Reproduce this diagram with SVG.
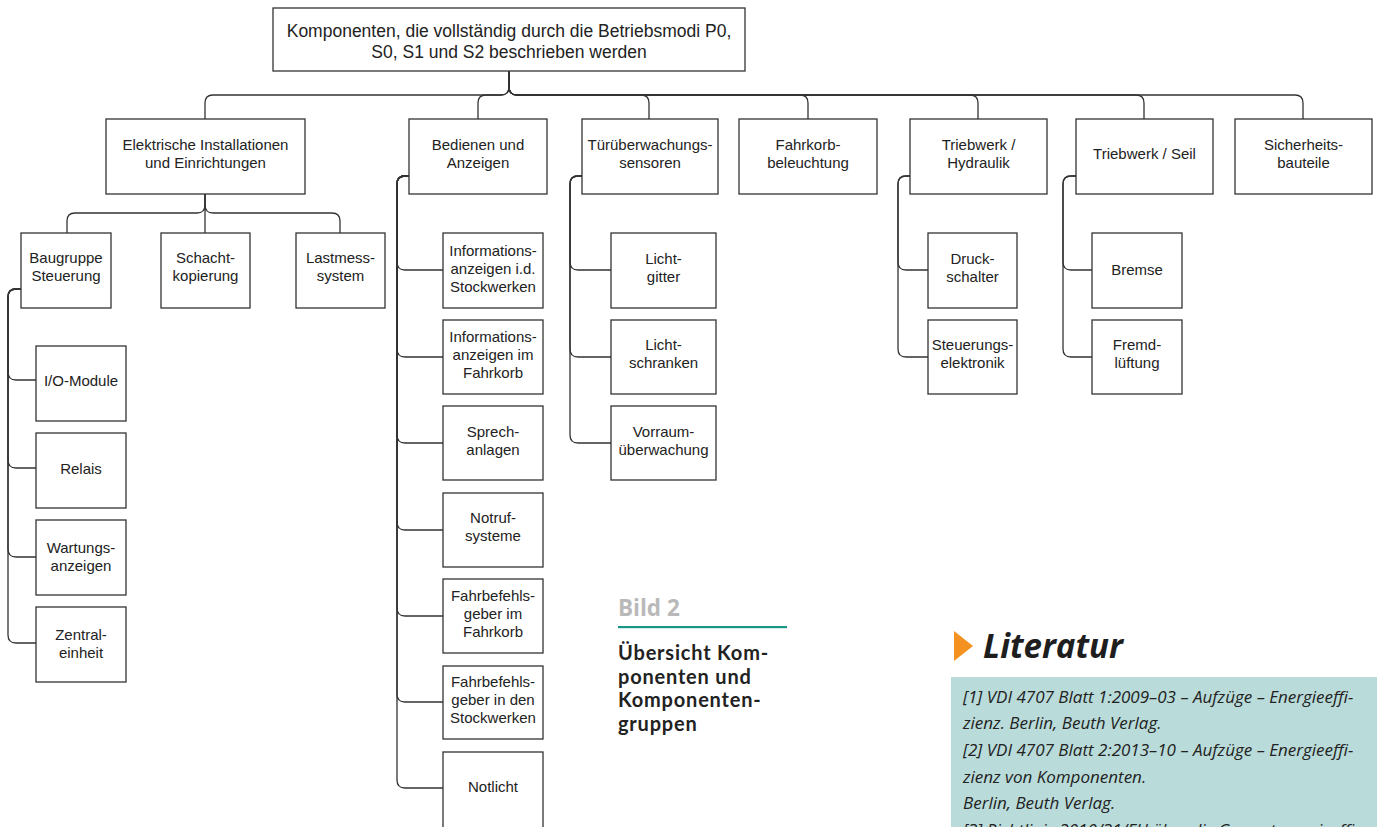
<svg xmlns="http://www.w3.org/2000/svg" width="1377" height="827" viewBox="0 0 1377 827">
<style>
.n rect{fill:#fff;stroke:#333;stroke-width:1.3}
.n text{font-family:"Liberation Sans",Arial,sans-serif;font-size:15px;fill:#222;text-anchor:middle}
.top text{font-size:17.5px}
#connectors path{fill:none;stroke:#333;stroke-width:1.3}
.cap{font-family:Lato,"Open Sans",sans-serif;font-weight:bold;fill:#222;font-size:20px;letter-spacing:0.8px}
.ref{font-family:"Open Sans","Noto Sans",sans-serif;font-style:italic;fill:#222;font-size:17px}
</style>
<rect width="1377" height="827" fill="#fff"/>
<g id="connectors">
<path d="M509,71 V87 Q509,95 501,95 H213 Q205,95 205,103 V119"/>
<path d="M509,71 V87 Q509,95 501,95 H486 Q478,95 478,103 V119"/>
<path d="M509,71 V87 Q509,95 517,95 H641 Q649,95 649,103 V119"/>
<path d="M509,71 V87 Q509,95 517,95 H800 Q808,95 808,103 V119"/>
<path d="M509,71 V87 Q509,95 517,95 H970 Q978,95 978,103 V119"/>
<path d="M509,71 V87 Q509,95 517,95 H1136 Q1144,95 1144,103 V119"/>
<path d="M509,71 V87 Q509,95 517,95 H1295 Q1303,95 1303,103 V119"/>
<path d="M205,194 V205 Q205,213 197,213 H75 Q67,213 67,221 V233"/>
<path d="M205,194 V233"/>
<path d="M205,194 V205 Q205,213 213,213 H332 Q340,213 340,221 V233"/>
<path d="M21,289 H16 Q8,289 8,297 V372 Q8,380 16,380 H36"/>
<path d="M21,289 H16 Q8,289 8,297 V460 Q8,468 16,468 H36"/>
<path d="M21,289 H16 Q8,289 8,297 V549 Q8,557 16,557 H36"/>
<path d="M21,289 H16 Q8,289 8,297 V635 Q8,643 16,643 H36"/>
<path d="M409,176 H405 Q397,176 397,184 V262 Q397,270 405,270 H443"/>
<path d="M409,176 H405 Q397,176 397,184 V349 Q397,357 405,357 H443"/>
<path d="M409,176 H405 Q397,176 397,184 V435 Q397,443 405,443 H443"/>
<path d="M409,176 H405 Q397,176 397,184 V522 Q397,530 405,530 H443"/>
<path d="M409,176 H405 Q397,176 397,184 V608 Q397,616 405,616 H443"/>
<path d="M409,176 H405 Q397,176 397,184 V694 Q397,702 405,702 H443"/>
<path d="M409,176 H405 Q397,176 397,184 V780 Q397,788 405,788 H443"/>
<path d="M582,176 H578 Q570,176 570,184 V262 Q570,270 578,270 H611"/>
<path d="M582,176 H578 Q570,176 570,184 V349 Q570,357 578,357 H611"/>
<path d="M582,176 H578 Q570,176 570,184 V435 Q570,443 578,443 H611"/>
<path d="M910,176 H906 Q898,176 898,184 V262 Q898,270 906,270 H928"/>
<path d="M910,176 H906 Q898,176 898,184 V349 Q898,357 906,357 H928"/>
<path d="M1076,176 H1071 Q1063,176 1063,184 V262 Q1063,270 1071,270 H1092"/>
<path d="M1076,176 H1071 Q1063,176 1063,184 V349 Q1063,357 1071,357 H1092"/>
</g>
<g id="root" class="n top"><rect x="273" y="8" width="472" height="63"/><text x="509" y="37">Komponenten, die vollständig durch die Betriebsmodi P0,</text><text x="509" y="58">S0, S1 und S2 beschrieben werden</text></g>
<g id="elektrische" class="n"><rect x="106" y="119" width="199" height="75"/><text x="205.5" y="150">Elektrische Installationen</text><text x="205.5" y="168">und Einrichtungen</text></g>
<g id="bedienen" class="n"><rect x="409" y="119" width="138" height="75"/><text x="478" y="150">Bedienen und</text><text x="478" y="168">Anzeigen</text></g>
<g id="tuer" class="n"><rect x="582" y="119" width="136" height="75"/><text x="650" y="150">Türüberwachungs-</text><text x="650" y="168">sensoren</text></g>
<g id="fahrkorb" class="n"><rect x="739" y="119" width="138" height="75"/><text x="808" y="150">Fahrkorb-</text><text x="808" y="168">beleuchtung</text></g>
<g id="hydraulik" class="n"><rect x="910" y="119" width="137" height="75"/><text x="978.5" y="150">Triebwerk /</text><text x="978.5" y="168">Hydraulik</text></g>
<g id="seil" class="n"><rect x="1076" y="119" width="137" height="75"/><text x="1144.5" y="159">Triebwerk / Seil</text></g>
<g id="sicherheit" class="n"><rect x="1235" y="119" width="137" height="75"/><text x="1303.5" y="150">Sicherheits-</text><text x="1303.5" y="168">bauteile</text></g>
<g id="baugruppe" class="n"><rect x="21" y="233" width="90" height="75"/><text x="66" y="263">Baugruppe</text><text x="66" y="281">Steuerung</text></g>
<g id="schacht" class="n"><rect x="161" y="233" width="89" height="75"/><text x="205.5" y="263">Schacht-</text><text x="205.5" y="281">kopierung</text></g>
<g id="lastmess" class="n"><rect x="296" y="233" width="89" height="75"/><text x="340.5" y="263">Lastmess-</text><text x="340.5" y="281">system</text></g>
<g id="io" class="n"><rect x="36" y="346" width="90" height="75"/><text x="81" y="386">I/O-Module</text></g>
<g id="relais" class="n"><rect x="36" y="433" width="90" height="75"/><text x="81" y="474">Relais</text></g>
<g id="wartung" class="n"><rect x="36" y="520" width="90" height="75"/><text x="81" y="553">Wartungs-</text><text x="81" y="571">anzeigen</text></g>
<g id="zentral" class="n"><rect x="36" y="607" width="90" height="75"/><text x="81" y="640">Zentral-</text><text x="81" y="658">einheit</text></g>
<g id="info1" class="n"><rect x="443" y="233" width="100" height="75"/><text x="493" y="256">Informations-</text><text x="493" y="274">anzeigen i.d.</text><text x="493" y="292">Stockwerken</text></g>
<g id="info2" class="n"><rect x="443" y="320" width="100" height="74"/><text x="493" y="342">Informations-</text><text x="493" y="360">anzeigen im</text><text x="493" y="378">Fahrkorb</text></g>
<g id="sprech" class="n"><rect x="443" y="406" width="100" height="74"/><text x="493" y="437">Sprech-</text><text x="493" y="455">anlagen</text></g>
<g id="notruf" class="n"><rect x="443" y="493" width="100" height="74"/><text x="493" y="523">Notruf-</text><text x="493" y="541">systeme</text></g>
<g id="fahrbef1" class="n"><rect x="443" y="579" width="100" height="74"/><text x="493" y="601">Fahrbefehls-</text><text x="493" y="619">geber im</text><text x="493" y="637">Fahrkorb</text></g>
<g id="fahrbef2" class="n"><rect x="443" y="666" width="100" height="73"/><text x="493" y="687">Fahrbefehls-</text><text x="493" y="705">geber in den</text><text x="493" y="723">Stockwerken</text></g>
<g id="notlicht" class="n"><rect x="443" y="752" width="100" height="85"/><text x="493" y="792">Notlicht</text></g>
<g id="lichtgitter" class="n"><rect x="611" y="233" width="105" height="75"/><text x="663.5" y="264">Licht-</text><text x="663.5" y="282">gitter</text></g>
<g id="lichtschranken" class="n"><rect x="611" y="320" width="105" height="74"/><text x="663.5" y="350">Licht-</text><text x="663.5" y="368">schranken</text></g>
<g id="vorraum" class="n"><rect x="611" y="406" width="105" height="74"/><text x="663.5" y="437">Vorraum-</text><text x="663.5" y="455">überwachung</text></g>
<g id="druck" class="n"><rect x="928" y="233" width="89" height="75"/><text x="972.5" y="264">Druck-</text><text x="972.5" y="282">schalter</text></g>
<g id="steuerel" class="n"><rect x="928" y="320" width="89" height="74"/><text x="972.5" y="350">Steuerungs-</text><text x="972.5" y="368">elektronik</text></g>
<g id="bremse" class="n"><rect x="1092" y="233" width="90" height="75"/><text x="1137" y="275">Bremse</text></g>
<g id="fremd" class="n"><rect x="1092" y="320" width="90" height="74"/><text x="1137" y="350">Fremd-</text><text x="1137" y="368">lüftung</text></g>
<g id="caption">
<text x="618" y="616" font-family="Open Sans,Noto Sans,sans-serif" font-weight="bold" font-size="22.5" fill="#b9b9b9">Bild 2</text>
<rect x="618" y="626" width="169" height="2.2" fill="#1a9688"/>
<text class="cap" x="618" y="660">Übersicht Kom-</text>
<text class="cap" x="618" y="684">ponenten und</text>
<text class="cap" x="618" y="707">Komponenten-</text>
<text class="cap" x="618" y="731">gruppen</text>
</g>
<g id="literatur">
<polygon points="954,631 973,646 954,661" fill="#f39220"/>
<text x="983" y="658" font-family="Open Sans,Noto Sans,sans-serif" font-weight="bold" font-style="italic" font-size="34" fill="#1e1e1e" textLength="140" lengthAdjust="spacingAndGlyphs">Literatur</text>
<rect x="951" y="677" width="426" height="150" fill="#b9dbd9"/>
<text class="ref" x="963" y="703">[1] VDI 4707 Blatt 1:2009–03 – Aufzüge – Energieeffi-</text>
<text class="ref" x="963" y="729">zienz. Berlin, Beuth Verlag.</text>
<text class="ref" x="963" y="756">[2] VDI 4707 Blatt 2:2013–10 – Aufzüge – Energieeffi-</text>
<text class="ref" x="963" y="783">zienz von Komponenten.</text>
<text class="ref" x="963" y="809">Berlin, Beuth Verlag.</text>
<text class="ref" x="963" y="836">[3] Richtlinie 2010/31/EU über die Gesamtenergieeffi-</text>
</g>
</svg>
